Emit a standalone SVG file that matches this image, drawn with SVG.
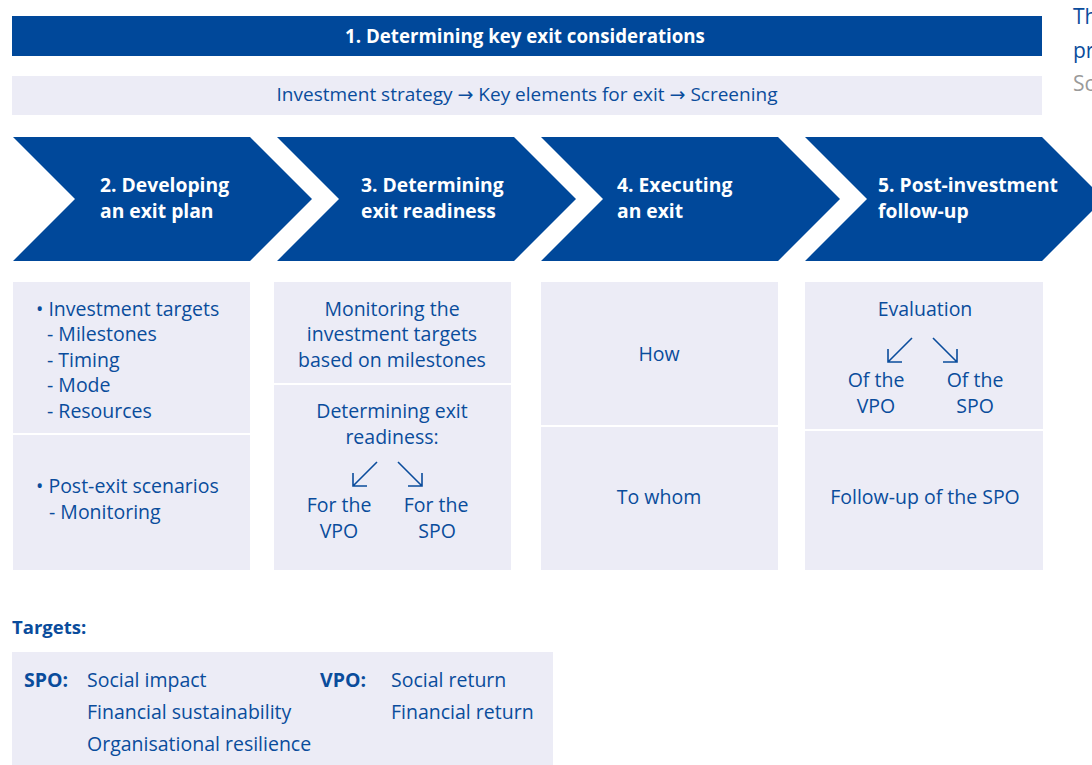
<svg xmlns="http://www.w3.org/2000/svg" width="1092" height="765" viewBox="0 0 1092 765">
<defs>
<style>
.dark{fill:#00489a}
.light{fill:#ececf6}
.div{stroke:#ffffff;stroke-width:2}
text{font-family:"Open Sans","Noto Sans","Liberation Sans",sans-serif;font-size:19.5px;fill:#0a4c9c}
.w{fill:#ffffff;font-weight:bold;font-size:19.3px}
.b{font-weight:bold}
.c{text-anchor:middle}
.ar{font-family:"DejaVu Sans",sans-serif;font-size:19px}
.arr{fill:none;stroke:#0a4c9c;stroke-width:1.6}
</style>
</defs>
<rect width="1092" height="765" fill="#ffffff"/>

<g id="step1">
<rect class="dark" x="12" y="16" width="1030" height="40"/>
<text class="w c" x="525" y="43" style="font-size:18.7px">1. Determining key exit considerations</text>
</g>
<g id="strategy">
<rect class="light" x="12" y="76" width="1030" height="39"/>
<text class="c" x="527" y="101" style="font-size:19px">Investment strategy <tspan class="ar">→</tspan> Key elements for exit <tspan class="ar">→</tspan> Screening</text>
</g>

<g id="side-text">
<text x="1073" y="24" style="font-size:21px">Th</text>
<text x="1073" y="58" style="font-size:21px">pr</text>
<text x="1073" y="91" style="font-size:21px;fill:#9a9a9a">Sc</text>
</g>

<g id="step2">
<polygon class="dark" points="13,137 250,137 312,199 250,261 13,261 75,199"/>
<text class="w" x="100" y="192">2. Developing</text>
<text class="w" x="100" y="218">an exit plan</text>
</g>
<g id="step3">
<polygon class="dark" points="277,137 514,137 576,199 514,261 277,261 339,199"/>
<text class="w" x="361" y="192">3. Determining</text>
<text class="w" x="361" y="218">exit readiness</text>
</g>
<g id="step4">
<polygon class="dark" points="541,137 778,137 840,199 778,261 541,261 603,199"/>
<text class="w" x="617" y="192">4. Executing</text>
<text class="w" x="617" y="218">an exit</text>
</g>
<g id="step5">
<polygon class="dark" points="805,137 1042,137 1104,199 1042,261 805,261 867,199"/>
<text class="w" x="878" y="192">5. Post-investment</text>
<text class="w" x="878" y="218">follow-up</text>
</g>

<g id="plan-box">
<rect class="light" x="13" y="282" width="237" height="288"/>
<line class="div" x1="13" y1="434" x2="250" y2="434"/>
<text x="36" y="316">• Investment targets</text>
<text x="47" y="341">- Milestones</text>
<text x="47" y="367">- Timing</text>
<text x="47" y="392">- Mode</text>
<text x="47" y="418">- Resources</text>
<text x="36" y="493">• Post-exit scenarios</text>
<text x="49" y="519">- Monitoring</text>
</g>

<g id="readiness-box">
<rect class="light" x="274" y="282" width="237" height="288"/>
<line class="div" x1="274" y1="384" x2="511" y2="384"/>
<text class="c" x="392" y="316">Monitoring the</text>
<text class="c" x="392" y="341">investment targets</text>
<text class="c" x="392" y="367">based on milestones</text>
<text class="c" x="392" y="418">Determining exit</text>
<text class="c" x="392" y="444">readiness:</text>
<text class="c" x="339" y="512">For the</text>
<text class="c" x="339" y="538">VPO</text>
<text class="c" x="436" y="512">For the</text>
<text class="c" x="437" y="538">SPO</text>
</g>

<g id="execute-box">
<rect class="light" x="541" y="282" width="237" height="288"/>
<line class="div" x1="541" y1="426" x2="778" y2="426"/>
<text class="c" x="659" y="361">How</text>
<text class="c" x="659" y="504">To whom</text>
</g>

<g id="followup-box">
<rect class="light" x="805" y="282" width="238" height="288"/>
<line class="div" x1="805" y1="430" x2="1043" y2="430"/>
<text class="c" x="925" y="316">Evaluation</text>
<text class="c" x="876" y="387">Of the</text>
<text class="c" x="876" y="413">VPO</text>
<text class="c" x="975" y="387">Of the</text>
<text class="c" x="975" y="413">SPO</text>
<text class="c" x="925" y="504">Follow-up of the SPO</text>
</g>

<g id="connectors">
<path class="arr" d="M377,462 L353,486 M353,473 L353,486 L367,486"/>
<path class="arr" d="M398,462 L422,486 M422,473 L422,486 L408,486"/>
<path class="arr" d="M912,338 L888,362 M888,349 L888,362 L902,362"/>
<path class="arr" d="M933,338 L957,362 M957,349 L957,362 L943,362"/>
</g>

<g id="targets">
<text class="b" x="12" y="634" style="font-size:18.5px">Targets:</text>
<rect class="light" x="12" y="652" width="541" height="113"/>
<text class="b" x="24" y="687">SPO:</text>
<text x="87" y="687">Social impact</text>
<text x="87" y="719">Financial sustainability</text>
<text x="87" y="751">Organisational resilience</text>
<text class="b" x="320" y="687">VPO:</text>
<text x="391" y="687">Social return</text>
<text x="391" y="719">Financial return</text>
</g>
</svg>
